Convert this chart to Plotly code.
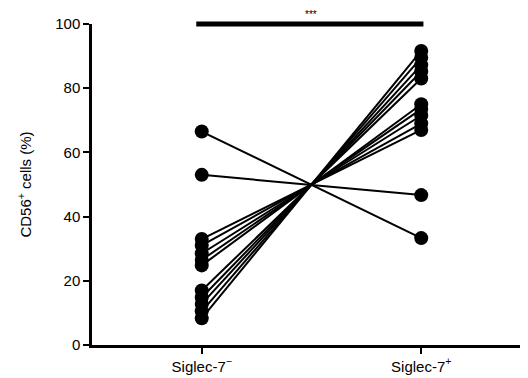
import plotly.graph_objects as go

categories = ["Siglec-7<sup>−</sup>", "Siglec-7<sup>+</sup>"]
neg_values = [66.5, 53.0, 33.0, 31.0, 28.5, 26.5, 24.8, 17.0, 14.8, 12.8, 10.5, 8.3]
pos_values = [33.3, 46.7, 67.0, 69.0, 71.5, 73.5, 75.0, 83.0, 85.2, 87.2, 89.5, 91.6]
y_ticks = [0, 20, 40, 60, 80, 100]
sig_label = "***"

fig = go.Figure()
for a, b in zip(neg_values, pos_values):
    fig.add_trace(go.Scatter(
        x=[0, 1], y=[a, b], mode="lines+markers",
        line=dict(color="black", width=2),
        marker=dict(color="black", size=14),
        cliponaxis=False, showlegend=False, hoverinfo="skip"))

fig.add_shape(type="line", x0=-0.025, x1=1.01, y0=1, y1=1,
              xref="x", yref="paper", line=dict(color="black", width=5))
fig.add_annotation(x=0.5, y=1, xref="x", yref="paper", text=sig_label,
                   showarrow=False, yanchor="bottom", yshift=2,
                   font=dict(size=10, color="black"))

fig.update_layout(
    width=520, height=370,
    margin=dict(l=84, r=8, t=16, b=33),
    plot_bgcolor="white", paper_bgcolor="white",
    font=dict(family="Liberation Sans, Arial, sans-serif", size=15, color="black"),
    xaxis=dict(range=[-0.5, 1.45], tickvals=[0, 1], ticktext=categories,
               showline=True, linecolor="black", linewidth=2.5,
               ticks="outside", ticklen=6, tickwidth=2, tickcolor="black",
               showgrid=False, zeroline=False, tickfont=dict(size=15),
               automargin=False),
    yaxis=dict(range=[0, 100], tickvals=y_ticks,
               showline=True, linecolor="black", linewidth=2.5,
               ticks="outside", ticklen=6, tickwidth=2, tickcolor="black",
               showgrid=False, zeroline=False, tickfont=dict(size=15),
               automargin=False,
               title=dict(text="CD56<sup>+</sup> cells (%)", font=dict(size=15), standoff=20)),
)
fig.write_html("out.html")
